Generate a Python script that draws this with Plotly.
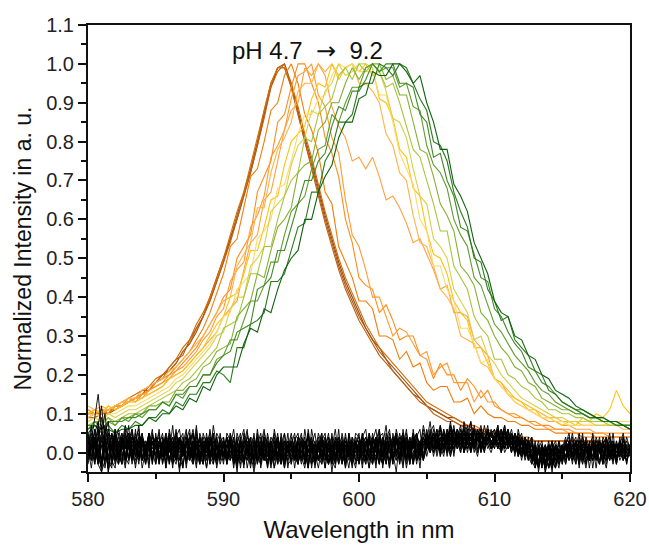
import plotly.graph_objects as go

# Wavelength grids (nm)
wavelength = [580 + 0.5 * i for i in range(81)]
noise_wavelength = [580 + 0.25 * i for i in range(161)]

# Normalized intensity x 100, colored spectra (pH 4.7 -> 9.2), 0.5 nm sampling
brown_1 = [9,10,10,10,11,12,13,14,15,16, 18,20,21,23,26,28,31,35,39,44, 49,55,60,66,72,79,87,94,99,100,
           95,88,81,75,68,61,55,49,44,40, 36,32,29,27,24,22,20,18,16,14, 12,11,10,9,9,8,7,6,6,5,
           5,4,4,4,4,3,3,3,3,3, 3,3,3,3,3,3,2,2,2,2, 2]
brown_2 = [10,10,11,10,12,12,13,14,15,17, 18,19,22,24,25,29,32,35,40,45, 50,55,61,67,73,80,88,95,99,99,
           94,87,80,74,67,60,54,48,43,39, 35,32,29,26,24,21,19,17,15,14, 12,11,10,9,8,7,7,6,5,5,
           4,4,4,4,3,3,3,3,3,3, 3,3,3,2,2,2,2,2,2,2, 2]
brown_3 = [9,9,10,11,11,12,13,14,16,16, 18,20,21,23,26,28,32,35,39,44, 49,54,60,66,72,79,86,94,98,100,
           94,87,80,73,66,59,53,47,42,38, 34,31,28,25,23,21,19,17,15,13, 12,10,9,8,8,7,6,6,5,5,
           4,4,4,3,3,3,3,3,3,3, 3,2,2,2,2,2,2,2,2,2, 2]
brown_4 = [10,11,10,11,12,13,14,15,16,17, 19,20,22,24,27,29,33,36,40,45, 50,56,62,67,74,81,88,95,99,99,
           95,89,82,76,69,62,56,50,45,41, 37,33,30,27,25,23,21,19,17,15, 13,12,11,10,9,8,7,7,6,6,
           5,5,4,4,4,4,3,3,3,3, 3,3,3,3,3,3,3,2,2,2, 2]
orange_1 = [11,10,11,10,12,12,13,14,15,16, 18,19,20,22,24,26,29,32,36,41, 46,53,55,63,71,73,80,88,90,97,
            100,95,87,83,77,67,64,53,49,45, 39,39,37,30,30,29,24,26,22,23, 18,16,17,17,13,13,14,10,12,10,
            9,9,8,8,7,7,6,6,6,5, 5,5,5,4,4,4,4,4,4,4, 4]
orange_2 = [10,11,10,12,11,12,14,13,15,16, 17,18,20,21,23,25,27,30,33,36, 40,42,50,53,56,67,71,75,85,87,
            94,100,100,95,90,81,77,71,60,54, 45,43,42,36,38,34,29,30,30,25, 24,19,23,20,20,16,19,17,14,16,
            12,11,10,10,9,8,8,7,7,6, 6,6,5,5,5,5,5,4,4,4, 4]
orange_3 = [10,10,11,11,12,12,13,14,14,16, 17,18,19,21,22,24,26,29,31,35, 37,44,47,49,58,61,66,76,79,83,
            91,97,98,100,92,89,81,77,65,56, 53,47,40,40,35,30,32,31,28,25, 26,20,22,23,18,18,18,13,16,13,
            13,11,10,9,9,8,7,7,6,6, 6,5,5,5,5,4,4,4,4,4, 4]
orange_4 = [10,11,10,11,12,13,13,14,15,15, 16,17,19,20,21,23,25,27,29,31, 35,37,39,47,54,56,65,67,75,83,
            88,90,99,97,100,97,89,84,81,75, 76,73,76,71,65,66,63,59,54,55, 51,47,42,43,36,36,35,29,27,25,
            19,18,15,13,12,11,10,9,8,8, 7,7,6,6,6,5,5,5,5,5, 5]
light_orange = [12,11,12,11,12,13,14,14,16,17, 18,19,21,22,24,26,28,30,33,36, 39,40,48,51,54,63,63,72,78,81,
                85,93,95,95,100,98,100,97,99,100, 95,95,93,90,82,79,72,70,61,54, 53,48,42,40,37,30,29,28,23,22,
                19,17,15,14,13,12,11,10,9,9, 8,8,8,7,7,7,7,7,7,6, 6]
yellow_1 = [10,11,10,12,11,12,13,13,14,15, 16,17,19,20,21,23,25,27,30,33, 35,40,41,46,52,52,58,65,66,74,
            80,82,84,91,95,94,100,96,99,100, 98,100,99,91,90,86,78,76,68,66, 57,51,50,46,39,36,34,27,27,23,
            19,18,16,14,13,11,11,9,9,8, 7,8,7,9,8,10,9,11,16,12, 10]
yellow_2 = [9,10,9,10,10,11,12,12,13,14, 15,16,17,19,20,22,24,26,28,31, 35,36,42,44,46,55,57,60,68,69,
            75,82,87,87,91,92,97,100,99,100, 98,98,98,92,92,85,77,73,69,60, 57,48,48,42,39,32,32,28,23,24,
            19,17,15,13,12,11,10,9,9,8, 8,7,7,7,7,7,7,8,8,8, 8]
yellow_3 = [8,9,8,10,9,10,11,11,12,13, 14,15,16,18,19,21,23,25,27,30, 31,37,40,40,48,50,53,62,64,66,
            74,79,81,88,87,93,95,100,97,98, 100,100,97,98,93,86,85,81,73,66, 64,55,53,50,42,39,36,29,30,25,
            23,20,18,16,14,13,12,11,10,9, 9,8,8,8,8,7,7,7,7,7, 7]
green_1 = [7,8,8,9,8,9,10,10,11,12, 13,14,15,16,18,19,21,23,25,27, 32,33,34,40,46,46,53,53,60,66,
           70,72,81,80,87,89,91,97,99,96, 100,98,100,98,94,95,90,84,78,76, 70,64,57,57,48,45,42,35,32,30,
           24,24,20,19,17,16,14,13,11,11, 10,10,9,9,8,8,8,7,7,7, 7]
green_2 = [6,8,7,9,7,9,9,10,10,12, 12,13,13,16,16,18,19,22,23,26, 27,28,35,37,39,46,45,52,58,60,
           63,72,74,75,83,85,90,90,95,99, 96,99,100,100,96,97,92,92,85,78, 77,71,64,61,57,48,46,43,36,34,
           30,27,25,22,21,18,17,14,13,12, 11,11,10,10,9,9,8,8,8,7, 7]
green_3 = [6,8,6,8,7,9,8,10,9,11, 11,13,12,15,14,17,17,20,20,24, 25,29,29,34,39,39,43,49,49,56,
           62,64,66,73,78,79,87,85,90,94, 94,99,100,98,99,99,94,95,89,88, 79,74,72,68,60,56,53,45,43,38,
           33,31,28,25,23,21,18,16,15,13, 12,11,10,10,9,9,8,8,7,7, 7]
green_4 = [7,7,6,8,8,8,9,9,10,11, 11,13,12,15,15,17,17,20,20,23, 25,26,31,32,33,42,43,45,52,52,
           58,64,70,70,75,77,84,89,88,93, 93,96,100,98,100,100,95,95,94,87, 85,76,77,70,66,58,57,51,45,44,
           37,35,31,28,26,22,21,18,17,15, 13,12,11,11,10,9,9,8,8,7, 7]
green_5 = [6,7,6,7,5,7,6,8,7,9, 9,11,10,13,12,15,15,18,18,21, 20,18,27,27,33,34,36,44,44,46,
           52,58,59,67,67,75,78,85,85,87, 94,95,95,100,99,97,100,99,95,91, 88,80,79,75,67,62,58,50,49,42,
           39,34,35,29,27,25,21,20,16,15, 13,12,11,10,9,9,8,8,7,7, 6]
green_6 = [5,7,5,6,5,6,6,7,7,9, 8,10,10,12,11,14,13,17,16,20, 22,22,22,28,32,31,37,36,42,47,
           50,52,60,60,67,71,74,81,85,85, 91,92,98,97,97,100,100,98,95,97, 90,85,78,78,69,66,62,54,50,46,
           39,36,35,30,29,25,24,20,19,16, 15,14,12,11,10,9,9,8,8,7, 6]

# Blank / background spectra (normalized intensity x 100), 0.25 nm sampling
blank_1 = [2,5,-1,6,3,-2,1,5,-1,3,-2,2,4,-1,3,0,-2,3,1,4, 1,-2,3,0,5,1,-2,3,-1,2,4,-1,2,-3,3,0,2,4,-1,2,
           -2,2,0,3,-3,2,-1,3,0,-1,2,-3,3,0,-2,2,4,-1,1,-2, 0,3,-2,2,1,-4,2,0,3,-2,2,0,4,-2,1,3,-1,2,-3,3,
           1,-1,3,-2,4,1,-3,3,0,-2,3,4,-1,2,-4,1,4,-2,0,3, 1,4,-1,3,0,5,2,-1,4,1,3,5,0,4,2,-1,4,2,5,1,
           3,6,1,5,2,4,0,3,5,-1,2,4,-1,1,3,-3,2,-2,-4,1, -2,1,-1,2,0,-2,2,3,-1,2,-2,0,3,1,-2,2,0,3,-1,-2, 1]
blank_2 = [0,3,9,15,6,2,-3,1,4,-1,3,-2,2,5,-1,2,3,-1,0,2, 3,-1,2,4,-2,2,0,3,-1,5,0,-2,2,3,-1,2,-3,3,1,-1,
           2,-1,3,-2,2,0,4,1,-3,0,3,-1,2,-2,1,3,-1,-3,2,0, 3,-1,1,-2,2,4,-1,-3,2,3,-1,2,-2,3,0,1,4,-1,-3,2,
           0,3,-2,4,-1,2,-3,3,1,5,-2,3,1,-4,4,0,3,-2,1,4, 2,0,4,-1,3,5,1,4,2,6,4,0,3,5,2,4,0,4,2,1,
           4,1,6,2,4,0,3,-1,4,1,2,-2,0,-4,2,-1,3,-3,0,-2, 2,-1,3,-2,0,2,-2,2,0,3,1,-2,2,0,3,-1,2,-1,2,0, 0]
blank_3 = [3,1,2,-3,-5,-2,2,4,1,-1,3,-2,2,4,1,-1,3,1,4,-1, 0,3,1,-2,2,4,-1,3,1,-1,-2,2,3,-1,2,-2,3,0,2,-2,
           3,-1,-2,2,0,3,-2,1,0,-5,0,2,-2,3,0,2,-3,0,3,1, -2,2,0,3,-3,0,2,-2,3,-1,2,4,0,-3,2,0,3,1,-2,2,
           4,1,-2,3,-3,2,4,-1,3,1,-2,2,4,3,-1,1,3,5,1,-2, 3,4,1,3,5,1,4,6,2,4,1,5,3,4,6,2,1,4,3,5,
           2,5,1,3,6,1,4,0,3,-1,2,0,-3,1,-1,-4,2,0,-2,3, 0,-2,2,0,3,0,-3,2,-1,2,-2,3,0,2,-1,-2,2,-1,3,1, 0]
blank_4 = [1,2,4,1,-2,3,6,1,-1,-3,2,3,-1,4,2,3,-2,2,3,0, 2,4,-1,3,1,-3,2,0,3,4,1,-1,3,-2,2,0,4,1,-2,3,
           0,2,3,-1,-3,2,0,-2,2,3,-1,-3,2,0,3,-4,0,2,-2,1, 2,-2,3,0,2,-1,-3,2,4,-1,2,-3,0,3,1,-2,0,2,3,-3,
           1,3,-1,2,4,0,3,1,-3,2,3,-1,5,1,-2,3,1,4,2,-1, 4,1,3,5,1,4,3,0,5,2,4,1,4,3,5,4,1,3,4,2,
           5,2,1,4,3,1,3,2,-1,3,0,2,-2,1,-4,2,-1,3,0,-3, 1,2,-2,2,0,3,1,-1,-2,2,0,2,-2,1,3,0,2,-2,0,2, 1]
blank_5 = [4,1,3,0,5,10,2,-2,2,4,-1,2,-2,3,1,2,4,1,-1,3, -2,2,0,3,1,4,-1,-2,3,0,2,5,1,-1,3,1,-1,-3,2,0,
           2,3,0,2,-2,0,3,1,-2,2,-1,3,-2,2,0,-1,2,-3,3,0, 1,2,-2,0,3,1,-2,0,2,-1,3,-2,2,0,-3,2,3,-1,2,0,
           3,0,2,4,1,-1,3,0,4,2,-3,3,1,4,-1,3,2,-1,3,4, 1,3,5,1,4,2,6,1,3,4,5,2,1,4,3,5,2,4,1,3,
           2,4,3,6,1,4,0,2,4,-1,3,-2,1,-3,2,0,-4,1,3,-1, -2,2,0,1,2,-2,3,0,2,-1,2,0,3,-2,1,2,0,-1,2,0, 2]
blank_6 = [1,-1,3,2,-2,1,3,2,4,0,2,7,3,-1,2,-2,2,3,1,-2, 2,0,3,1,-1,-2,2,4,0,2,-1,3,-2,2,4,0,3,1,-1,3,
           0,-2,2,1,3,1,-2,0,2,4,-2,0,2,3,-2,0,2,1,-3,2, 2,0,3,-1,-2,2,0,3,-2,2,0,1,-3,3,0,2,-2,0,2,3,
           0,2,-2,3,0,4,1,-2,3,1,4,-1,3,1,-2,4,1,3,-1,2, 3,5,2,1,4,2,5,3,1,5,2,4,3,0,4,5,2,1,4,3,
           4,1,3,5,4,0,3,-1,1,3,0,-1,2,-3,0,-4,2,-1,1,-2, 2,-1,0,3,0,2,-2,0,2,-1,3,0,-2,2,0,2,-1,2,0,3, 1]
blank_7 = [-1,2,5,8,-3,0,4,1,3,6,2,-1,4,1,-1,5,2,0,3,1, 1,3,-1,2,4,-1,1,3,2,-2,0,3,1,4,-1,2,3,-2,1,2,
           3,0,-1,2,1,-2,3,2,-1,1,4,0,-2,1,2,-1,3,1,-1,2, 0,-1,2,3,-1,2,1,-2,1,3,0,-1,2,1,3,-2,1,3,0,1,
           2,4,0,-1,3,2,0,4,-1,3,1,0,2,5,1,-1,2,3,0,2, 5,2,4,3,6,0,3,5,2,3,6,3,5,2,3,6,4,3,5,4,
           3,6,3,4,2,5,-1,3,2,0,4,-2,-1,2,-3,1,-2,-4,2,0, 1,3,1,-1,2,1,0,2,-2,1,3,1,0,-1,2,3,0,1,-2,1, 2]
blank_8 = [3,0,-2,4,9,5,-4,-3,0,2,5,1,3,0,4,2,-1,1,5,2, 4,1,2,-1,3,2,5,1,-1,3,1,2,-1,4,0,3,2,1,4,-1,
           1,4,2,0,3,-1,1,4,2,-2,2,1,3,-1,4,2,0,3,1,-1, 3,1,-1,4,2,0,3,1,-2,2,4,1,0,2,-2,3,1,-1,4,2,
           -1,2,4,1,-2,3,2,-1,3,0,2,5,-1,3,2,0,-1,4,2,0, 2,4,3,5,2,3,4,2,6,4,2,3,6,1,5,3,6,4,2,4,
           4,3,5,1,3,4,2,0,3,-2,1,3,-2,1,-3,-1,2,-4,0,2, 0,2,-1,1,3,-1,1,2,0,2,-1,1,3,0,-2,1,2,0,3,1, 0]
blank_9 = [-2,1,4,-3,2,6,-1,-4,3,0,-3,4,1,-2,5,-1,2,-3,4,0, -3,2,-1,4,-2,1,3,-4,2,0,-2,5,-1,2,-3,3,0,-2,4,-1,
           2,-3,1,4,-2,0,3,-4,1,2,-2,4,-1,-3,2,0,-2,3,-4,1, -1,3,-3,2,0,-4,3,1,-2,4,-1,-3,2,0,-2,3,-4,1,2,-2,
           3,-2,1,-4,2,4,-1,-3,3,0,-2,4,1,-3,2,-1,3,-2,0,4, -1,3,1,5,-1,2,4,0,3,6,1,2,5,0,3,4,1,5,2,0,
           3,1,4,0,2,5,1,3,-2,2,0,-1,-3,2,-4,0,-2,1,-3,-1, 0,-3,2,-1,1,-3,2,0,-2,3,-1,1,-3,2,0,-2,1,3,-2,0, -1]
blank_10 = [5,-2,2,7,12,3,-1,2,-3,1,4,-2,3,0,-3,2,5,-2,1,-1, 2,-3,4,0,-2,3,1,-4,2,4,-1,-3,1,3,-2,5,-1,0,-3,2,
            -1,4,-2,0,3,-1,-3,2,4,-2,0,3,-1,2,-4,1,3,-2,0,2, 3,-2,1,-3,2,4,-2,0,-4,1,3,-1,2,-3,4,0,-2,3,-1,-4,
            2,0,-3,3,1,-2,4,-1,2,-3,1,5,-2,0,3,-1,4,0,-2,2, 4,0,2,6,2,-1,4,3,0,5,3,1,4,2,6,1,3,0,4,3,
            1,5,2,6,1,3,0,4,1,-1,2,0,-2,-4,1,-3,0,-2,2,-3, -1,2,-2,0,2,-1,1,-3,1,2,-2,0,2,-1,1,-3,2,0,-1,2, 0]
blank_11 = [0,-2,3,-1,-4,2,-2,5,1,-2,2,-1,3,-3,1,4,-2,0,2,-2, 4,0,-2,2,-3,3,-1,1,4,-2,2,-3,3,0,1,-2,4,-1,2,-3,
            0,2,-2,4,-1,-3,2,0,-1,3,-3,1,-1,4,-2,1,-1,2,-2,3, -3,1,2,-2,3,-1,1,-3,2,0,-2,3,-1,2,1,-3,2,-2,4,-1,
            -2,4,1,-1,-3,2,0,3,-2,4,0,-2,3,-1,1,4,-3,2,1,-1, 3,1,5,2,0,4,2,5,1,3,0,4,2,5,1,3,5,2,3,1,
            4,2,0,3,5,2,4,-1,3,2,-2,1,-1,-3,2,-5,0,1,-3,0, 1,-2,0,2,-3,1,-1,2,0,-2,1,3,-1,-2,2,0,-1,2,1,-2, 0]
blank_12 = [1,4,-3,2,3,0,5,-3,2,-1,1,5,-2,2,0,-1,4,1,-3,3, -1,3,2,-3,1,0,4,-2,1,3,-2,1,4,-2,0,3,-2,2,1,-1,
            3,-2,2,-1,1,3,-3,2,-2,0,2,-2,1,-3,3,-1,2,0,-2,1, 2,-1,-3,1,4,-2,0,2,-1,-3,2,1,-2,4,-3,0,2,-1,1,3,
            -3,1,3,0,2,-2,3,-3,0,2,4,-2,0,3,-1,2,-3,1,3,-1, 1,5,0,3,2,5,0,3,4,2,5,0,3,4,1,5,3,1,6,2,
            2,5,3,1,6,2,3,1,-1,3,0,2,-3,0,-2,1,-4,2,-1,0, -1,1,2,-2,1,3,-1,0,2,-2,0,2,1,-3,1,-1,2,1,-2,1, 1]
blank_13 = [1,-4,3,6,-2,4,-5,2,5,-3,1,6,-2,3,-4,2,5,-1,3,-3, 4,-2,1,5,-3,2,6,-1,-4,3,1,-2,5,-3,2,4,-1,3,-4,1,
            -3,4,-1,2,-5,3,1,-2,4,-4,2,5,-1,-3,3,-2,4,0,-4,2, 3,-4,2,5,-2,0,4,-3,1,5,-2,3,-5,2,4,-1,-3,5,1,-2,
            -2,5,1,-4,3,6,-1,2,-3,4,0,-5,3,5,-2,1,4,-3,2,6, 2,6,0,4,7,1,5,-1,3,6,2,4,7,0,5,3,6,1,4,5,
            6,2,4,7,1,5,3,0,4,2,-2,3,-4,1,-3,-1,0,-5,2,1, -3,2,4,-2,1,5,-1,3,-4,2,0,4,-3,1,5,-2,3,-1,4,-3, 2]
blank_14 = [-3,2,6,-2,4,1,-4,5,2,-2,4,-3,2,6,-1,3,-4,1,5,-2, 2,5,-3,1,4,-2,3,-5,2,6,-1,3,-2,4,1,-4,2,5,-2,3,
            4,-1,3,-4,2,5,-3,1,3,-2,5,-4,1,3,-1,4,-2,2,5,-3, -2,3,5,-1,-4,2,4,-2,3,-3,1,5,-2,-4,3,1,-2,4,-3,2,
            5,-3,2,4,-2,1,6,-4,2,3,-1,4,-3,2,6,-2,0,3,-4,5, 3,0,5,2,6,3,0,7,2,4,1,6,3,5,0,4,7,2,5,3,
            1,6,3,7,2,4,1,5,0,3,-1,-3,2,-5,1,-3,2,-2,-4,1, 2,-2,3,0,-3,4,1,-2,3,-4,2,1,-2,4,-1,3,-3,2,0,-2, 1]
blank_15 = [2,7,-2,1,-5,3,4,-2,6,1,-3,3,5,-2,2,-3,4,2,-2,5, -1,3,4,-4,2,-1,5,2,-3,1,4,-2,6,-1,-3,2,5,-3,3,0,
            2,-3,5,1,-2,4,-3,3,-1,5,-2,0,4,-4,2,3,-3,5,-1,-2, 4,1,-3,3,-1,5,-4,2,1,-2,4,-3,3,1,-2,5,0,-4,3,1,
            -3,2,4,-2,5,0,-3,4,2,-4,3,5,-2,1,4,-3,5,2,-2,1, 5,1,3,6,0,4,2,6,-1,5,3,7,1,4,2,6,0,3,6,2,
            3,7,0,4,6,2,5,1,-1,4,2,-3,0,-2,1,-5,-1,3,-2,0, -2,3,-1,2,4,-3,2,1,-2,3,-1,-3,2,4,-2,1,-3,3,1,-1, 0]
blank_16 = [-1,3,1,4,-3,5,8,-2,-4,3,2,-1,5,0,-2,4,1,-3,2,4, 3,-3,2,0,5,-1,-3,4,1,-2,3,5,-3,1,2,-4,3,1,-2,5,
            -1,2,4,-3,1,-2,5,0,-4,3,1,-2,4,2,-3,0,5,-2,1,3, 1,-2,4,0,3,-3,2,5,-2,1,-4,2,4,-1,0,3,-3,2,-1,4,
            2,-4,3,1,-2,4,0,-3,5,1,-2,3,-1,4,-3,2,5,-1,3,-2, 4,2,6,1,3,5,-1,4,6,2,5,0,3,6,2,5,1,4,2,6,
            2,5,6,1,3,6,2,4,0,1,3,-2,-4,0,2,-3,1,-2,0,-4, 1,-1,2,-3,3,0,-2,4,1,-2,2,-3,1,3,-1,2,-2,4,-2,1, 1]
blank_17 = [3,-2,6,1,-4,7,2,-1,5,-3,4,1,7,-2,3,6,-1,2,-4,5, 1,6,-3,4,0,7,-2,3,5,-4,2,6,0,-3,5,2,-1,7,1,-2,
            4,-3,2,6,-1,3,-4,5,1,-2,6,0,3,-4,2,5,-1,4,-3,1, 5,0,-3,4,2,-4,6,1,-2,3,5,-3,1,6,-1,2,-4,5,0,3,
            -2,4,6,-1,3,-4,5,2,7,-2,1,4,-3,6,0,3,-2,5,1,7, 3,8,1,5,-1,6,3,8,2,4,7,0,5,8,2,6,1,7,3,5,
            4,7,1,6,3,5,2,4,-1,3,1,-2,3,-3,0,2,-4,1,-2,3, -3,2,5,-1,3,-4,4,1,-2,5,0,-3,4,2,-1,5,-2,3,0,4, 1]
blank_18 = [-2,4,1,-3,5,3,-5,2,6,0,-3,5,2,-2,6,-1,3,0,5,-3, 5,-1,3,-4,6,1,-2,4,2,-3,5,0,7,-2,1,4,-3,5,-1,2,
            -1,5,3,-2,4,-4,2,6,-3,1,4,-1,5,2,-3,6,1,-2,3,-4, 2,5,-1,3,-3,6,0,-2,5,2,-4,4,1,-2,6,-3,3,1,-1,5,
            4,-2,1,5,-3,3,6,-1,2,-4,5,1,-2,4,3,-3,6,0,2,-2, 6,2,5,0,7,3,5,1,6,3,0,8,4,2,6,0,5,3,7,1,
            2,5,0,6,4,1,5,2,3,0,3,-1,1,-4,2,-2,0,3,-4,0, 2,-3,1,4,-2,3,0,-4,2,4,-1,1,-3,4,1,-2,3,-1,2,-3, 2]
blank_19 = [5,1,-3,4,7,-4,1,3,-2,5,0,-4,3,6,1,-2,4,-3,2,6, -3,2,5,-1,3,-4,4,6,0,-2,3,1,-4,5,2,-1,6,0,-3,4,
            2,-2,5,0,-4,3,6,-1,2,-3,4,1,-2,5,0,-4,3,2,-1,5, -3,4,1,-2,6,0,3,-4,2,5,-1,1,-3,4,2,-2,5,-1,3,0,
            1,5,-2,3,0,-3,4,5,-1,2,-3,6,2,-1,5,1,-3,4,6,-2, 1,5,7,2,4,0,6,3,7,1,4,6,2,8,3,0,5,2,6,4,
            6,2,4,1,5,3,0,6,2,4,-1,2,0,3,-2,1,-4,-1,2,-2, 1,4,-2,0,3,-1,5,-3,1,2,-4,3,0,-2,4,1,-3,2,5,-1, 1]
blank_20 = [0,6,3,-1,2,-3,5,4,-2,1,5,-1,-3,4,2,7,-2,0,3,1, 4,-2,0,5,2,-3,1,4,-4,3,6,-2,2,0,-3,4,1,-2,5,3,
            -2,1,4,-3,5,2,-2,0,4,3,-3,2,6,-1,1,-2,4,-3,5,0, 1,-1,4,3,-2,5,-3,2,0,4,1,-3,5,-1,2,4,-2,1,-4,3,
            3,0,-3,5,2,4,-2,1,3,6,-1,0,4,-2,3,-3,2,5,-1,4, 4,1,5,3,0,6,2,7,4,1,6,2,5,1,7,3,5,0,6,2,
            5,3,6,2,4,0,5,3,1,2,-2,4,-2,0,-3,2,-1,-3,1,-1, -2,3,1,5,-1,2,-3,3,0,-2,4,1,-1,-4,2,3,-2,0,4,1, -1]

spectra = [brown_1, brown_2, brown_3, brown_4, orange_1, orange_2, orange_3, orange_4,
           light_orange, yellow_1, yellow_2, yellow_3, green_1, green_2, green_3, green_4,
           green_5, green_6]
spectra_colors = ["#8c4a12", "#a8561a", "#c25f0c", "#d66a02", "#f07d0a", "#ff8c1a", "#ff9a30",
                  "#ffa040", "#ffb347", "#ffc20e", "#ffd966", "#d9d048", "#a9c43c", "#84b034",
                  "#5f9c2c", "#3f8a24", "#2a7a1c", "#0e620e"]
blanks = [blank_1, blank_2, blank_3, blank_4, blank_5, blank_6, blank_7, blank_8,
          blank_9, blank_10, blank_11, blank_12, blank_13, blank_14, blank_15, blank_16,
          blank_17, blank_18, blank_19, blank_20]

for s in spectra:
    assert len(s) == len(wavelength), len(s)
for b in blanks:
    assert len(b) == len(noise_wavelength), len(b)

FONT = "Arial, 'Liberation Sans', sans-serif"

fig = go.Figure()
for s, c in zip(spectra, spectra_colors):
    fig.add_trace(go.Scatter(x=wavelength, y=[v / 100 for v in s], mode="lines",
                             line=dict(color=c, width=1.1), showlegend=False,
                             hoverinfo="skip"))
for b in blanks:
    fig.add_trace(go.Scatter(x=noise_wavelength, y=[v / 100 for v in b], mode="lines",
                             line=dict(color="#000000", width=0.9), showlegend=False,
                             hoverinfo="skip"))

fig.add_annotation(x=590.5, y=1.033, xref="x", yref="y",
                   text="pH 4.7  <span style='font-family:DejaVu Sans'>\u2192</span>  9.2",
                   showarrow=False, xanchor="left", yanchor="middle",
                   font=dict(family=FONT, size=24, color="#111111"))

axis_common = dict(showgrid=False, zeroline=False, showline=True, linecolor="#111111",
                   linewidth=2, mirror=True, ticks="outside", ticklen=8, tickwidth=1.6,
                   tickcolor="#111111", automargin=False,
                   tickfont=dict(family=FONT, size=20, color="#222222"))

fig.update_xaxes(range=[580, 620], tickvals=[580, 590, 600, 610, 620],
                 minor=dict(dtick=5, ticks="outside", ticklen=5, tickwidth=1.6, tickcolor="#111111"),
                 title=dict(text="Wavelength in nm", font=dict(family=FONT, size=24, color="#111111"),
                            standoff=12),
                 **axis_common)
fig.update_yaxes(range=[-0.05, 1.1], tickvals=[0.0, 0.1, 0.2, 0.3, 0.4, 0.5, 0.6, 0.7, 0.8, 0.9, 1.0, 1.1],
                 tickformat=".1f",
                 minor=dict(dtick=0.05, tick0=0, ticks="outside", ticklen=5, tickwidth=1.6, tickcolor="#111111"),
                 title=dict(text="Normalized Intensity in a. u.", font=dict(family=FONT, size=23, color="#111111"),
                            standoff=8),
                 **axis_common)

fig.update_layout(width=649, height=547, margin=dict(l=88, r=19, t=25, b=75),
                  plot_bgcolor="white", paper_bgcolor="white", showlegend=False)

fig.write_html("out.html")
